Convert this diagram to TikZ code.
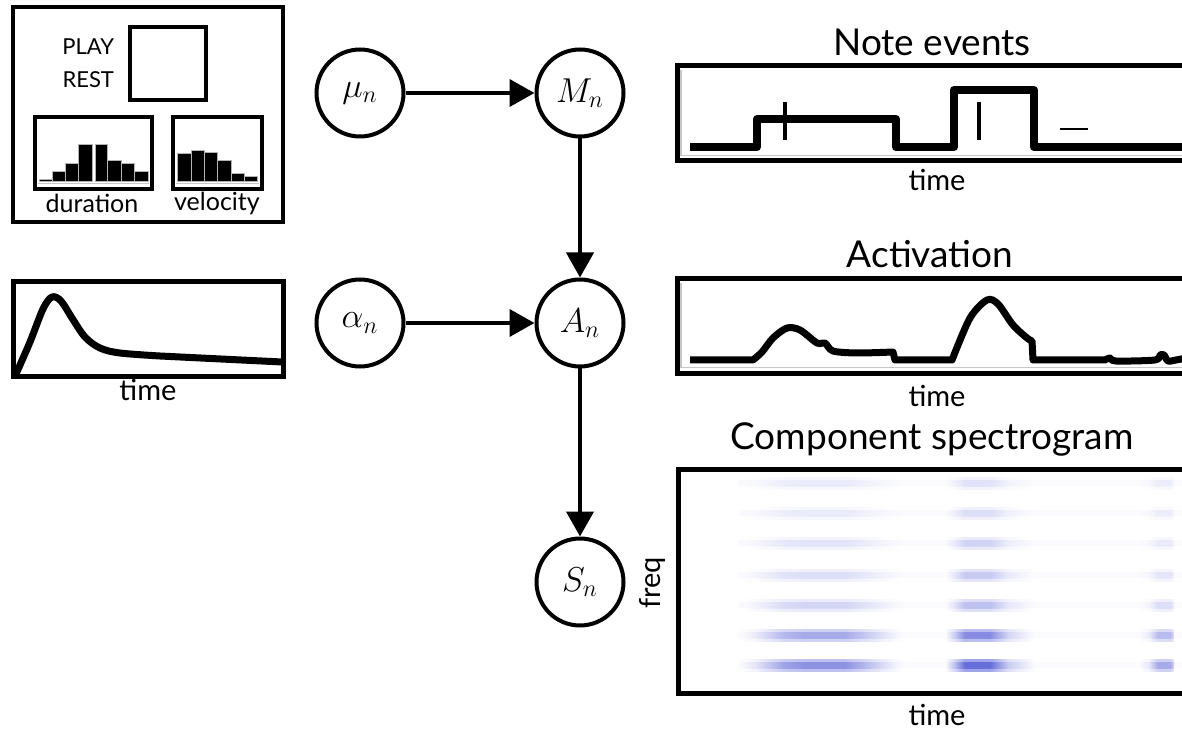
\documentclass[tikz,border=0pt]{standalone}
\usepackage{fontspec}
\setmainfont{Lato}
\usetikzlibrary{arrows.meta}

\definecolor{specblue}{RGB}{30,40,200}
\pgfdeclarehorizontalshading{bandone}{100bp}{color(0bp)=(white); color(25bp)=(white);
  color(30bp)=(specblue!20!white); color(39bp)=(specblue!85!white); color(45bp)=(specblue);
  color(57bp)=(specblue); color(66bp)=(specblue!45!white); color(72bp)=(specblue!10!white);
  color(75bp)=(white); color(100bp)=(white)}
\pgfdeclarehorizontalshading{bandtwo}{100bp}{color(0bp)=(white); color(25bp)=(white);
  color(30bp)=(specblue!40!white); color(36bp)=(specblue); color(50bp)=(specblue);
  color(60bp)=(specblue!35!white); color(75bp)=(white); color(100bp)=(white)}
\pgfdeclarehorizontalshading{bandthree}{100bp}{color(0bp)=(white); color(25bp)=(white);
  color(40bp)=(specblue!25!white); color(52bp)=(specblue); color(70bp)=(specblue);
  color(75bp)=(specblue!40!white); color(100bp)=(white)}

\begin{document}
\begin{tikzpicture}[
    x=0.5pt, y=-0.5pt,
    var/.style={
      circle, draw, line width=2pt, minimum size=43.5pt, inner sep=0pt,
      font=\LARGE,
    },
    link/.style={line width=2pt, -{Triangle[length=12.5pt, width=13.5pt]}},
    panel/.style={draw, line width=2.5pt},
    innerline/.style={gray!45, line width=0.6pt},
    heading/.style={font=\fontsize{18.5}{21}\selectfont},
    axislabel/.style={font=\fontsize{14.5}{16}\selectfont},
    smalllabel/.style={font=\fontsize{11}{13}\selectfont},
    histlabel/.style={font=\fontsize{12.5}{14}\selectfont},
    signal/.style={line width=3.5pt, line join=round},
    histbar/.style={fill=black, draw=gray!60, line width=0.4pt},
]
\path[use as bounding box] (0,0) rectangle (1182,732);
\clip (0,0) rectangle (1182,732);

% Prior box: state and histograms
\draw[panel, line width=2pt] (13,7) rectangle (283,222);
\draw[line width=2pt] (130,27) rectangle (206,100);
\node[smalllabel, anchor=east] (play) at (121,47) {PLAY};
\node[smalllabel, anchor=east] (rest) at (121,80) {REST};

\draw[line width=2.2pt] (35,117) rectangle (152,189);
\draw[line width=2.2pt] (173,117) rectangle (262,189);
\draw[innerline] (38,183.5) -- (149,183.5);
\draw[innerline] (176,183.5) -- (259,183.5);
\foreach \xa/\xb/\h in {39/52/179, 52/65/171, 65/78/163, 78/92/144,
                        95/107/144, 107/121/160, 121/134/163, 134/148/171,
                        177/191/153, 191/204/150, 204/217/152, 217/231/160,
                        231/244/173, 244/257/176}
  \filldraw[histbar] (\xa,181.5) rectangle (\xb,\h);
\node[histlabel] (durlabel) at (92,203) {duration};
\node[histlabel] (vellabel) at (217,203) {velocity};

% Attack envelope
\draw[panel] (13,282) rectangle (283,376);
\draw[signal] plot[smooth, tension=0.55] coordinates {(16,374) (30,342) (43,309)
    (52,297) (61,301) (72,318) (85,337) (100,348) (120,353) (160,356)} -- (282,362);
\node[axislabel] (envtime) at (148,390) {time};

% Graphical model
\node[var] (mu) at (360,93) {$\mu_n$};
\node[var] (M) at (580,93) {$M_n$};
\node[var] (alpha) at (360,323) {$\alpha_n$};
\node[var] (A) at (580,323) {$A_n$};
\node[var] (S) at (580,582) {$S_n$};

\draw[link] (mu) -- (M);
\draw[link] (alpha) -- (A);
\draw[link] (M) -- (A);
\draw[link] (A) -- (S);

% Note events
\node[heading] (notetitle) at (932,42) {Note events};
\draw[panel] (1190,66) -| (677,161) -- (1190,161);
\draw[innerline] (681,70) |- (1190,155.5);
\draw[signal, line width=4pt, line cap=butt] (690,147) -- (757,147) -- (757,119) -- (896,119)
    -- (896,147) -- (954,147) -- (954,90) -- (1034,90) -- (1034,147) -- (1190,147);
\draw[line width=2pt] (785,102) -- (785,140);
\draw[line width=2pt] (979,102) -- (979,140);
\draw[line width=0.8pt] (1060,129) -- (1088,129);
\node[axislabel] (notetime) at (937,180) {time};

% Activation
\node[heading] (acttitle) at (930,254) {Activation};
\draw[panel] (1190,279) -| (677,373) -- (1190,373);
\draw[innerline] (681,283) |- (1190,367.5);
\draw[signal] (690,360) -- (753,360)
    -- plot[smooth, tension=0.5] coordinates {(753,360) (762,352) (773,338) (787,328)
       (800,330) (817,343) (825,343) (833,351) (857,353) (893,352)}
    -- (895,360) -- (952,360)
    -- plot[smooth, tension=0.5] coordinates {(952,360) (970,318) (987,300) (998,304)
       (1013,325) (1027,338) (1032,341)}
    -- (1033,360) -- (1105,360)
    -- plot[smooth, tension=0.5] coordinates {(1105,360) (1110,358) (1116,361)
       (1155,360) (1160,355) (1164,355) (1168,361) (1176,360) (1186,358)};
\node[axislabel] (acttime) at (937,396) {time};

% Component spectrogram
\node[heading] (spectitle) at (932,439) {Component spectrogram};
\foreach \yy/\pa/\pb/\pc in {483/.08/.12/.06, 513/.08/.14/.06, 543/.11/.20/.08,
                             575/.14/.25/.10, 605/.19/.30/.14, 635/.42/.62/.32,
                             665/.58/.85/.42} {
  \pgfmathsetmacro{\wa}{\pa*0.5}
  \pgfmathsetmacro{\wb}{\pb*0.5}
  \pgfmathsetmacro{\wc}{\pc*0.5}
  \fill[specblue, fill opacity=0.02] (738,\yy-3) rectangle (1182,\yy+3);
  \shade[shading=bandone, fill opacity=\wa] (738,\yy-6) rectangle (905,\yy+6);
  \shade[shading=bandone, fill opacity=\wa] (738,\yy-3) rectangle (905,\yy+3);
  \shade[shading=bandtwo, fill opacity=\wb] (945,\yy-6) rectangle (1035,\yy+6);
  \shade[shading=bandtwo, fill opacity=\wb] (945,\yy-3) rectangle (1035,\yy+3);
  \shade[shading=bandthree, fill opacity=\wc] (1138,\yy-6) rectangle (1174,\yy+6);
  \shade[shading=bandthree, fill opacity=\wc] (1138,\yy-3) rectangle (1174,\yy+3);
}
\draw[panel] (1190,469) -| (678,693) -- (1190,693);
\node[axislabel, rotate=90] (freqlabel) at (652,583) {freq};
\node[axislabel] (spectime) at (937,715) {time};
\end{tikzpicture}
\end{document}
